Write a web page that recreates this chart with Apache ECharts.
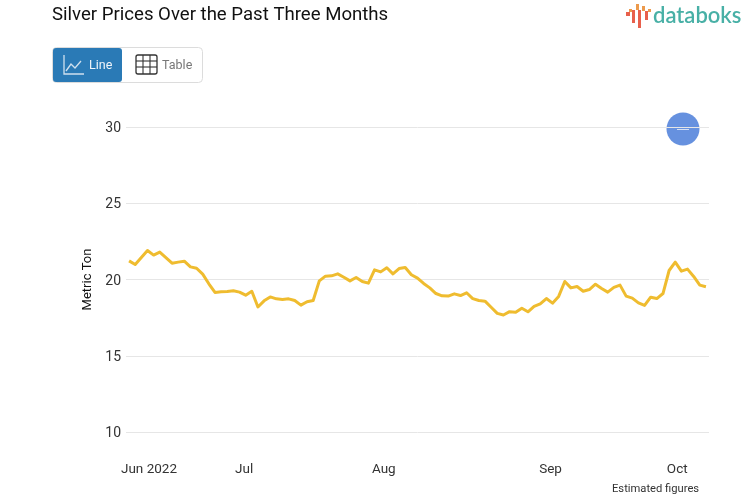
<!DOCTYPE html>
<html><head><meta charset="utf-8">
<style>html,body{margin:0;padding:0;background:#fff}#c{width:753px;height:498px}</style>
<script src="https://cdn.jsdelivr.net/npm/echarts@6/dist/echarts.min.js"></script>
</head><body><div id="c"></div>
<script>
const prices = [21.22,20.98,21.44,21.9,21.6,21.8,21.44,21.07,21.14,21.2,20.83,20.74,20.35,19.72,19.15,19.19,19.21,19.26,19.17,18.97,19.23,18.2,18.6,18.86,18.73,18.69,18.73,18.62,18.32,18.54,18.62,
19.91,20.22,20.24,20.37,20.15,19.91,20.13,19.87,19.76,20.63,20.5,20.77,20.37,20.72,20.79,20.31,20.09,19.74,19.45,19.08,18.93,18.91,19.06,18.95,19.13,18.75,18.62,18.58,18.18,17.78,17.67,17.89,17.85,
18.12,17.88,18.23,18.4,18.75,18.45,18.89,19.87,19.45,19.54,19.23,19.34,19.69,19.41,19.17,19.48,19.63,18.91,18.78,18.47,18.3,18.84,18.75,19.08,20.59,21.14,20.55,20.68,20.2,19.63,19.52];
const monthLabels = ['Jun 2022','Jul','Aug','Sep','Oct'];
const monthIndexes = [3,19,42,69,89];
const yTicks = [10,15,20,25,30];
const categories = prices.map((_, i) => { const k = monthIndexes.indexOf(i); return k >= 0 ? monthLabels[k] : ''; });
const monthStyle = {'Jun 2022':'jun','Jul':'jul','Aug':'aug','Sep':'sep','Oct':'oct'};

const chart = echarts.init(document.getElementById('c'), null, {renderer:'canvas'});
const font = 'Roboto';
const lab = (pad) => ({fontFamily:font,fontSize:13.5,color:'#333',padding:pad});
chart.setOption({
  animation:false,
  backgroundColor:'#fff',
  textStyle:{fontFamily:font},
  title:{text:'Silver Prices Over the Past Three Months',left:52,top:6,padding:0,
    textStyle:{fontFamily:font,fontSize:18.6,fontWeight:400,color:'#111'}},
  grid:{left:126,top:127,width:583,height:305,containLabel:false},
  xAxis:{type:'category',data:categories,boundaryGap:true,
    axisLine:{show:false},axisTick:{show:false},splitLine:{show:false},
    axisLabel:{interval:(i,v)=>v!=='',margin:31,hideOverlap:false,
      formatter:(v)=>v?`{${monthStyle[v]}|${v}}`:'',
      rich:{jun:lab([0,0,0,3]),jul:lab([0,3,0,0]),aug:lab([0,6,0,0]),sep:lab([0,4,0,0]),oct:lab([0,0,0,4])}}},
  yAxis:{type:'value',min:yTicks[0],max:yTicks[4],interval:5,
    name:'Metric Ton',nameLocation:'middle',nameGap:32,nameRotate:90,
    nameTextStyle:{fontFamily:font,fontSize:13,color:'#111'},
    axisLine:{show:false},axisTick:{show:false},
    splitLine:{lineStyle:{color:'#e6e6e6',width:1}},
    axisLabel:{margin:5,formatter:'{t|{value}}',
      rich:{t:{fontFamily:font,fontSize:14,color:'#333',padding:[3,0,0,0]}}}},
  series:[{type:'line',data:prices,symbol:'none',smooth:false,
    lineStyle:{color:'#efbc2f',width:3,join:'round'},z:3}],
  graphic:[
    {type:'rect',shape:{x:52.5,y:47.5,width:150,height:35,r:4},style:{fill:'#fff',stroke:'#dcdcdc',lineWidth:1}},
    {type:'rect',shape:{x:53,y:48,width:69,height:34,r:3},style:{fill:'#2a7ab6'}},
    {type:'polyline',shape:{points:[[64,55],[64,74],[84,74]]},style:{stroke:'#cfe0ee',fill:'none',lineWidth:1.3}},
    {type:'polyline',shape:{points:[[66,71],[71,64],[75,68],[81,61]]},style:{stroke:'#cfe0ee',fill:'none',lineWidth:1.3}},
    {type:'text',style:{x:89,y:66,text:'Line',fontFamily:font,fontSize:12.5,fill:'#f0f5fa',verticalAlign:'middle'}},
    {type:'rect',shape:{x:136,y:55,width:21,height:19,r:2},style:{fill:'none',stroke:'#333',lineWidth:1.3}},
    {type:'polyline',shape:{points:[[143,55],[143,74]]},style:{stroke:'#333',lineWidth:1.1}},
    {type:'polyline',shape:{points:[[150,55],[150,74]]},style:{stroke:'#333',lineWidth:1.1}},
    {type:'polyline',shape:{points:[[136,61],[157,61]]},style:{stroke:'#333',lineWidth:1.1}},
    {type:'polyline',shape:{points:[[136,67],[157,67]]},style:{stroke:'#333',lineWidth:1.1}},
    {type:'text',style:{x:162,y:66,text:'Table',fontFamily:font,fontSize:12.5,fill:'#777',verticalAlign:'middle'}},
    {type:'rect',shape:{x:626,y:12,width:4,height:4},style:{fill:'#e8604c'}},
    {type:'rect',shape:{x:629,y:9,width:3,height:3},style:{fill:'#ec9a4c'}},
    {type:'rect',shape:{x:632,y:10,width:3,height:13},style:{fill:'#e8604c'}},
    {type:'rect',shape:{x:636,y:4,width:3,height:6},style:{fill:'#ec9a4c'}},
    {type:'rect',shape:{x:638,y:10,width:3,height:18},style:{fill:'#e8604c'}},
    {type:'rect',shape:{x:642,y:6,width:3,height:5},style:{fill:'#ec9a4c'}},
    {type:'rect',shape:{x:645,y:11,width:3,height:9},style:{fill:'#e8604c'}},
    {type:'rect',shape:{x:648,y:9,width:3,height:3},style:{fill:'#ec9a4c'}},
    {type:'text',style:{x:653,y:16,text:'databoks',fontFamily:'Lato',fontSize:22,fontWeight:600,fill:'#48b0a6',verticalAlign:'middle'}},
    {type:'circle',shape:{cx:683,cy:129,r:16.5},style:{fill:'#6691df'}},
    {type:'rect',shape:{x:677,y:129,width:12,height:1},style:{fill:'#d5e0f5'}},
    {type:'text',style:{x:612,y:489,text:'Estimated figures',fontFamily:font,fontSize:11.2,fill:'#333',verticalAlign:'middle'}}
  ]
});
</script></body></html>
